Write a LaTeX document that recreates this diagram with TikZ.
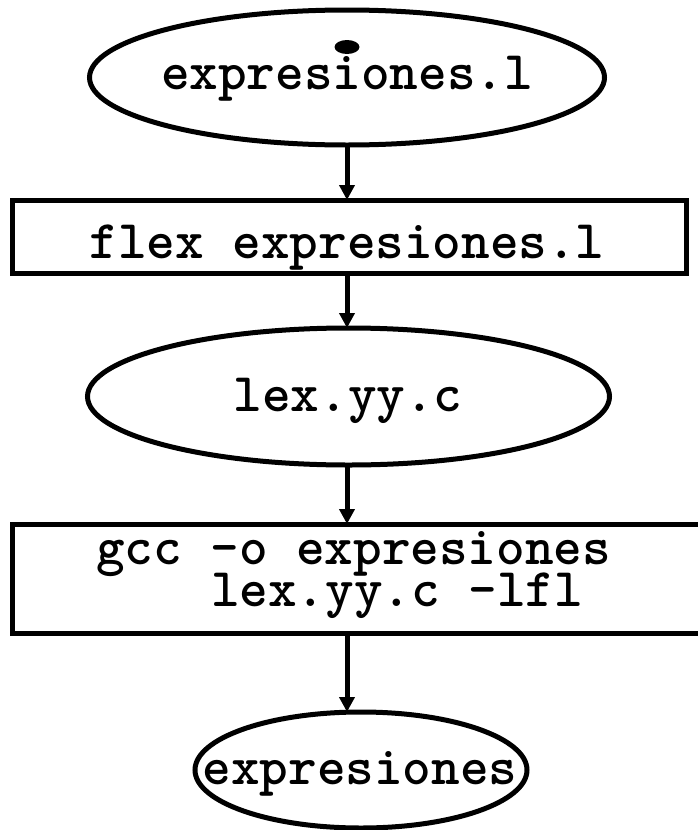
\documentclass[tikz,border=0pt]{standalone}
\usetikzlibrary{shapes.geometric,arrows.meta}
\begin{document}
\begin{tikzpicture}[x=1pt,y=-1pt,
  outl/.style={draw=black, line width=5pt, inner sep=0pt, outer sep=0pt},
  txt/.style={font=\ttfamily\bfseries\fontsize{54.5}{58}\selectfont, inner sep=0pt, outer sep=0pt},
  conn/.style={line width=5pt, -{Triangle[width=15pt,length=15pt]}}]
\useasboundingbox (0,0) rectangle (697,830);
\fill[white] (0,0) rectangle (697,830);
% shapes
\node[outl, ellipse, minimum width=515pt, minimum height=135pt] (e1) at (347,77.5) {};
\node[outl, rectangle, minimum width=673.5pt, minimum height=73pt] (b1) at (349.25,236.5) {};
\node[outl, ellipse, minimum width=522pt, minimum height=137pt] (e2) at (348.5,396.5) {};
\node[outl, rectangle, minimum width=710pt, minimum height=109pt] (b2) at (367.5,578.5) {};
\node[outl, ellipse, minimum width=332pt, minimum height=116pt] (e3) at (361,770) {};
% texts
\node[txt, anchor=base] (t1) at (347,89) {expresiones.l};
\fill (347,47) ellipse [x radius=12.5pt, y radius=7pt];
\node[txt, anchor=base] (t2) at (347,258) {flex expresiones.l};
\node[txt, anchor=base] (t3) at (348,411) {lex.yy.c};
\node[txt, anchor=base west] (t4a) at (96,564) {gcc -o expresiones};
\node[txt, anchor=base west] (t4b) at (211,606) {lex.yy.c -lfl};
\node[txt, anchor=base] (t5) at (360,784) {expresiones};
% connectors
\draw[conn] (e1.south) -- (e1.south |- b1.north);
\draw[conn] (e1.south |- b1.south) -- (e1.south |- e2.north);
\draw[conn] (e1.south |- e2.south) -- (e1.south |- b2.north);
\draw[conn] (e1.south |- b2.south) -- (e1.south |- e3.north);
\end{tikzpicture}
\end{document}
